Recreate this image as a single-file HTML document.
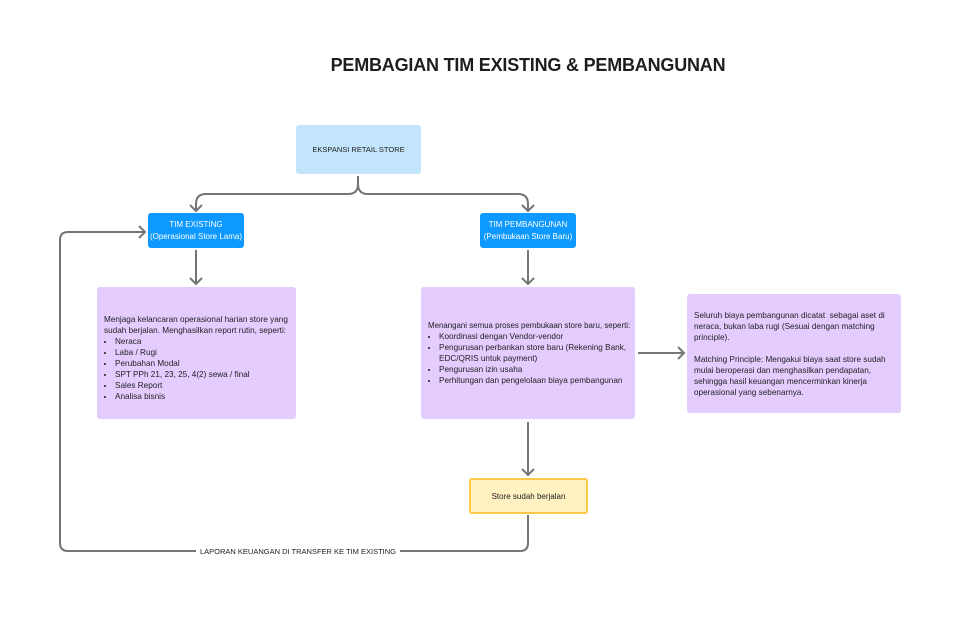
<!DOCTYPE html>
<html><head><meta charset="utf-8"><style>
body{margin:0;width:960px;height:621px;background:#fff;position:relative;overflow:hidden;font-family:"Liberation Sans",sans-serif;color:#1e1e1e}
.a{position:absolute;box-sizing:border-box;border-radius:3px}
.c{display:flex;align-items:center;justify-content:center;text-align:center}
.p{background:#e4ccff;font-size:8.2px;line-height:11px;padding:0 7px;display:flex;flex-direction:column;justify-content:center}
ul{margin:0;padding-left:11px}
.b{background:#0d99ff;color:#fff;font-size:8px;line-height:12px}
</style></head><body>
<svg width="960" height="621" style="position:absolute;left:0;top:0" fill="none" stroke="#757575" stroke-width="2">
<path d="M358 176 V184 Q358 194 348 194 H206 Q196 194 196 204 V211"/>
<path d="M358 184 Q358 194 368 194 H518 Q528 194 528 204 V211"/>
<path d="M190 205 L196 211 L202 205 M522 205 L528 211 L534 205"/>
<path d="M196 250 V284 M190 278 L196 284 L202 278"/>
<path d="M528 250 V284 M522 278 L528 284 L534 278"/>
<path d="M528 422 V475 M522 469 L528 475 L534 469"/>
<path d="M638 353 H684 M678 347 L684 353 L678 359"/>
<path d="M528 515 V543 Q528 551 520 551 H68 Q60 551 60 543 V240 Q60 232 68 232 H145 M139 226 L145 232 L139 238"/>
</svg>
<div class="a c" style="left:0;top:55px;width:1056px;font-size:18px;font-weight:bold;color:#1e1e1e;letter-spacing:-0.2px">PEMBAGIAN TIM EXISTING &amp; PEMBANGUNAN</div>
<div class="a c" style="left:296px;top:125px;width:125px;height:49px;background:#c2e5fb;font-size:7.5px">EKSPANSI RETAIL STORE</div>
<div class="a c b" style="left:148px;top:213px;width:96px;height:35px">TIM EXISTING<br>(Operasional Store Lama)</div>
<div class="a c b" style="left:480px;top:213px;width:96px;height:35px">TIM PEMBANGUNAN<br>(Pembukaan Store Baru)</div>
<div class="a p" style="left:97px;top:287px;width:199px;height:132px;padding-top:10px">Menjaga kelancaran operasional harian store yang sudah berjalan. Menghasilkan report rutin, seperti:<ul><li>Neraca</li><li>Laba / Rugi</li><li>Perubahan Modal</li><li>SPT PPh 21, 23, 25, 4(2) sewa / final</li><li>Sales Report</li><li>Analisa bisnis</li></ul></div>
<div class="a p" style="left:421px;top:287px;width:214px;height:132px;padding:0 4px 0 7px"><span style="white-space:nowrap;font-size:7.9px">Menangani semua proses pembukaan store baru, seperti:</span><ul><li>Koordinasi dengan Vendor-vendor</li><li>Pengurusan perbankan store baru (Rekening Bank, EDC/QRIS untuk payment)</li><li>Pengurusan izin usaha</li><li>Perhitungan dan pengelolaan biaya pembangunan</li></ul></div>
<div class="a p" style="left:687px;top:294px;width:214px;height:119px">Seluruh biaya pembangunan dicatat&nbsp; sebagai aset di neraca, bukan laba rugi (Sesuai dengan matching principle).<br><br>Matching Principle: Mengakui biaya saat store sudah mulai beroperasi dan menghasilkan pendapatan, sehingga hasil keuangan mencerminkan kinerja operasional yang sebenarnya.</div>
<div class="a c" style="left:469px;top:478px;width:119px;height:36px;background:#fff1c2;border:2px solid #ffc943;font-size:8px">Store sudah berjalan</div>
<div class="a" style="left:196px;top:546px;padding:0 4px;background:#fff;font-size:7.5px;line-height:11px;color:#1e1e1e">LAPORAN KEUANGAN DI TRANSFER KE TIM EXISTING</div>
</body></html>
